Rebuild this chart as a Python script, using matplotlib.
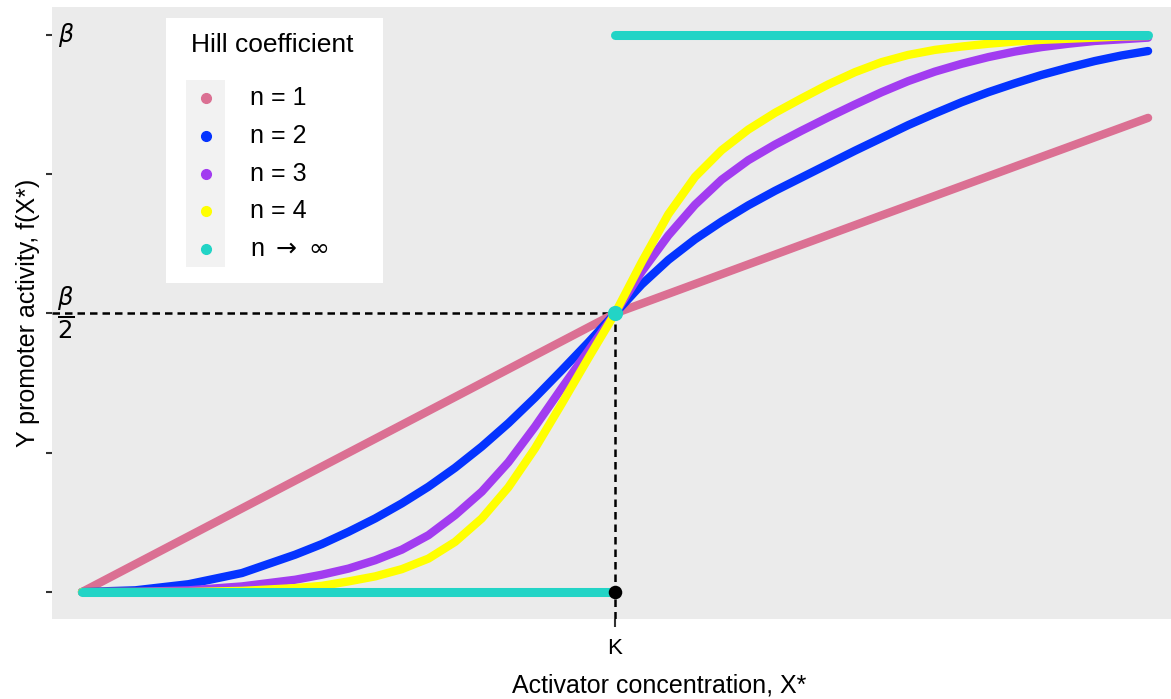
import matplotlib
matplotlib.use("Agg")
import matplotlib.pyplot as plt
from matplotlib.patches import Rectangle
from matplotlib.lines import Line2D

plt.rcParams['font.family'] = ['Liberation Sans', 'DejaVu Sans']

# Hill input functions, x in units of K, y in units of beta
K = 1.0

x_n1 = [0.0, 0.5, 1.0, 1.5, 2.0]
y_n1 = [0.0, 0.25, 0.5, 0.676, 0.851]

x_grid = [0.0, 0.1, 0.2, 0.3, 0.4, 0.45, 0.5, 0.55, 0.6, 0.65, 0.7, 0.75,
          0.8, 0.85, 0.9, 0.95, 1.0,
          1.05, 1.1, 1.15, 1.2, 1.25, 1.3, 1.35, 1.4, 1.45, 1.5, 1.55, 1.6,
          1.65, 1.7, 1.75, 1.8, 1.85, 1.9, 1.95, 2.0]

y_n2 = [0.0, 0.003, 0.014, 0.034, 0.067, 0.086, 0.108, 0.132, 0.159, 0.189,
        0.223, 0.261, 0.303, 0.349, 0.398, 0.448, 0.5,
        0.552, 0.596, 0.633, 0.665, 0.694, 0.720, 0.744, 0.768, 0.792, 0.815,
        0.838, 0.859, 0.879, 0.897, 0.913, 0.928, 0.941, 0.953, 0.963, 0.971]

y_n3 = [0.0, 0.0, 0.003, 0.010, 0.022, 0.031, 0.042, 0.057, 0.076, 0.102,
        0.138, 0.180, 0.233, 0.297, 0.366, 0.433, 0.5,
        0.575, 0.640, 0.695, 0.740, 0.775, 0.803, 0.828, 0.852, 0.875, 0.897,
        0.917, 0.934, 0.948, 0.960, 0.970, 0.978, 0.984, 0.989, 0.992, 0.995]

y_n4 = [0.0, 0.0, 0.0, 0.002, 0.007, 0.011, 0.019, 0.028, 0.041, 0.060,
        0.090, 0.132, 0.188, 0.258, 0.338, 0.420, 0.5,
        0.592, 0.678, 0.745, 0.793, 0.830, 0.860, 0.886, 0.911, 0.933, 0.951,
        0.964, 0.973, 0.979, 0.984, 0.988, 0.991, 0.993, 0.995, 0.997, 0.998]

# step function for n -> infinity
x_inf_off = [0.0, 1.0]
y_inf_off = [0.0, 0.0]
x_inf_on = [1.0, 2.0]
y_inf_on = [1.0, 1.0]

labels = ['n = 1', 'n = 2', 'n = 3', 'n = 4', r'n $\rightarrow$ $\infty$']
colors = ['#DB7093', '#0433FF', '#A23CF0', '#FFFF00', '#22D4C6']

y_ticks = [0.0, 0.25, 0.5, 0.75, 1.0]

W, H = 1171, 699
fig = plt.figure(figsize=(W / 100, H / 100), dpi=100)
ax = fig.add_axes([52 / W, 1 - 619 / H, (W - 52) / W, (619 - 7) / H])
ax.set_facecolor('#EBEBEB')
ax.set_xlim(-0.0563, 2.043)
ax.set_ylim(-0.0485, 1.050)
for s in ax.spines.values():
    s.set_visible(False)

# guide lines to the half-maximal point
xl, yl = ax.get_xlim()[0], ax.get_ylim()[0]
ax.plot([xl, K], [0.5, 0.5], color='black', lw=1.8, ls=(0, (3, 2)), zorder=1)
ax.plot([K, K], [yl, 0.5], color='black', lw=1.8, ls=(0, (3, 2)), zorder=1)

curves = [(x_n1, y_n1), (x_grid, y_n2), (x_grid, y_n3), (x_grid, y_n4)]
for (xs, ys), c in zip(curves, colors[:4]):
    ax.plot(xs, ys, color=c, lw=6, solid_capstyle='round',
            solid_joinstyle='round', zorder=2)

ax.plot(x_inf_off, y_inf_off, color=colors[4], lw=6.5, solid_capstyle='round', zorder=3)
ax.plot(x_inf_on, y_inf_on, color=colors[4], lw=6.5, solid_capstyle='round', zorder=3)
ax.scatter([K], [0.5], s=120, color=colors[4], zorder=4, linewidths=0)
ax.scatter([K], [0.0], s=95, color='black', zorder=4, linewidths=0)

ax.set_yticks(y_ticks)
ax.set_yticklabels([''] * len(y_ticks))
ax.set_xticks([K])
ax.set_xticklabels(['K'], fontsize=16)
ax.tick_params(axis='y', length=4, width=1.5, color='#333333')
ax.tick_params(axis='x', length=6, width=1.5, color='#333333', pad=8)

ax.text(-0.045, 1.0, r'$\beta$', fontsize=17, ha='left', va='center')
ax.text(-0.047, 0.5, r'$\frac{\beta}{2}$', fontsize=25, ha='left', va='center')

fig.text(659 / W, 1 - 686 / H, 'Activator concentration, X*', fontsize=18,
         ha='center', va='center')
fig.text(28 / W, 1 - 313 / H, 'Y promoter activity, f(X*)', fontsize=18,
         ha='center', va='center', rotation=90)

# legend box
def fx(px):
    return px / W

def fy(py):
    return 1 - py / H

fig.add_artist(Rectangle((fx(166), fy(283)), (383 - 166) / W, (283 - 18) / H,
                         transform=fig.transFigure, fc='white', ec='none', zorder=5))
fig.add_artist(Rectangle((fx(186), fy(267)), (225 - 186) / W, (267 - 80) / H,
                         transform=fig.transFigure, fc='#F2F2F2', ec='none', zorder=6))
fig.text(fx(191), fy(45), 'Hill coefficient', fontsize=19, ha='left', va='center', zorder=7)
for i, (lab, c) in enumerate(zip(labels, colors)):
    py = 98 + i * 37.8
    fig.add_artist(Line2D([fx(206)], [fy(py)], marker='o', ms=7, color=c, ls='none',
                          transform=fig.transFigure, zorder=7))
    fig.text(fx(250), fy(py), lab, fontsize=18, ha='left', va='center', zorder=7)

fig.savefig('out.png', dpi=100)
